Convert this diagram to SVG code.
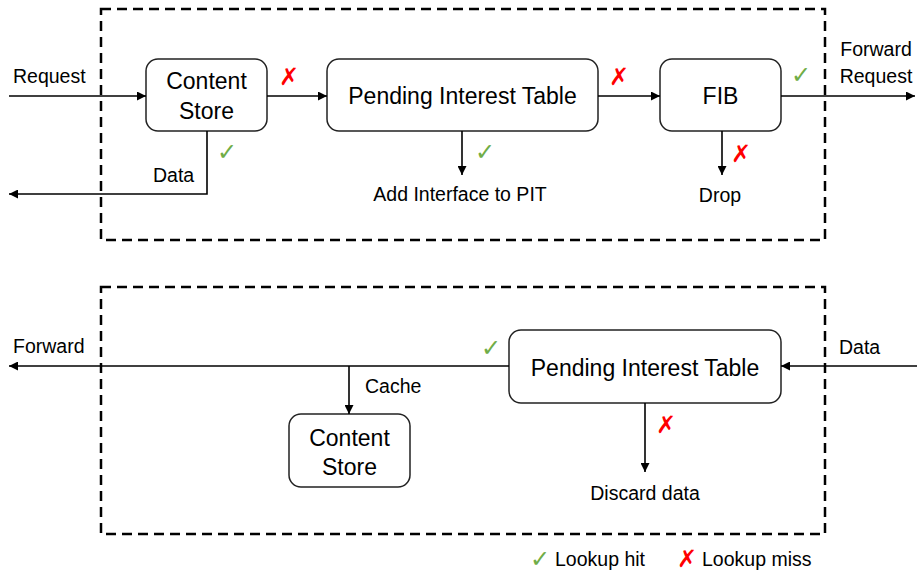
<svg xmlns="http://www.w3.org/2000/svg" width="917" height="574" viewBox="0 0 917 574">
  <style>
    .frame { fill: none; stroke: #000; stroke-width: 2.5; stroke-dasharray: 10 6; }
    .box { fill: #fff; stroke: #222; stroke-width: 1.5; }
    .node { font-family: "Liberation Sans", Arial, sans-serif; font-size: 23px; fill: #000; text-anchor: middle; }
    .lbl { font-family: "Liberation Sans", Arial, sans-serif; font-size: 19.5px; fill: #000; }
    .wire { fill: none; stroke: #000; stroke-width: 1.6; }
    .hit { font-family: "DejaVu Sans", sans-serif; font-size: 24px; fill: #70AD47; text-anchor: middle; }
    .miss { font-family: "DejaVu Sans", sans-serif; font-size: 24px; fill: #FF0000; text-anchor: middle; }
  </style>
  <defs>
    <marker id="arrow" viewBox="0 0 10 10" refX="10" refY="5" markerWidth="10" markerHeight="9" markerUnits="userSpaceOnUse" orient="auto">
      <path d="M0,0 L10,5 L0,10 z" fill="#000"/>
    </marker>
  </defs>

  <rect class="frame" x="101" y="9" width="724" height="231"/>
  <rect class="frame" x="101" y="287" width="724" height="247"/>

  <!-- interest path -->
  <g id="cs-top">
    <rect class="box" x="146" y="59" width="121" height="72" rx="12"/>
    <text class="node" x="206.5" y="89">Content</text>
    <text class="node" x="206.5" y="119">Store</text>
  </g>
  <g id="pit-top">
    <rect class="box" x="327" y="59" width="271" height="72" rx="12"/>
    <text class="node" x="462.5" y="104">Pending Interest Table</text>
  </g>
  <g id="fib">
    <rect class="box" x="660" y="59" width="121" height="72" rx="12"/>
    <text class="node" x="720.5" y="104">FIB</text>
  </g>

  <!-- data path -->
  <g id="pit-bottom">
    <rect class="box" x="509" y="330" width="272" height="73" rx="12"/>
    <text class="node" x="645" y="376">Pending Interest Table</text>
  </g>
  <g id="cs-bottom">
    <rect class="box" x="289" y="414" width="121" height="73" rx="12"/>
    <text class="node" x="349.5" y="446">Content</text>
    <text class="node" x="349.5" y="475">Store</text>
  </g>

  <g id="connectors">
    <line class="wire" x1="9" y1="96" x2="146" y2="96" marker-end="url(#arrow)"/>
    <line class="wire" x1="267" y1="96" x2="327" y2="96" marker-end="url(#arrow)"/>
    <line class="wire" x1="598" y1="96" x2="660" y2="96" marker-end="url(#arrow)"/>
    <line class="wire" x1="781" y1="96" x2="915" y2="96" marker-end="url(#arrow)"/>
    <polyline class="wire" points="207,131 207,194 9,194" marker-end="url(#arrow)"/>
    <line class="wire" x1="462" y1="131" x2="462" y2="175" marker-end="url(#arrow)"/>
    <line class="wire" x1="722" y1="131" x2="722" y2="175" marker-end="url(#arrow)"/>

    <line class="wire" x1="917" y1="366" x2="781" y2="366" marker-end="url(#arrow)"/>
    <line class="wire" x1="509" y1="366" x2="9" y2="366" marker-end="url(#arrow)"/>
    <line class="wire" x1="349" y1="366" x2="349" y2="414" marker-end="url(#arrow)"/>
    <line class="wire" x1="645" y1="403" x2="645" y2="472" marker-end="url(#arrow)"/>
  </g>

  <g id="labels">
    <text class="lbl" x="13" y="83">Request</text>
    <text class="lbl" x="153" y="182">Data</text>
    <text class="lbl" x="460" y="201" text-anchor="middle">Add Interface to PIT</text>
    <text class="lbl" x="720" y="202" text-anchor="middle">Drop</text>
    <text class="lbl" x="876" y="56" text-anchor="middle">Forward</text>
    <text class="lbl" x="876" y="83" text-anchor="middle">Request</text>

    <text class="lbl" x="13" y="353">Forward</text>
    <text class="lbl" x="365" y="393">Cache</text>
    <text class="lbl" x="839" y="354">Data</text>
    <text class="lbl" x="645" y="500" text-anchor="middle">Discard data</text>
  </g>

  <g id="marks">
    <text class="miss" x="289" y="85">✗</text>
    <text class="miss" x="619" y="85">✗</text>
    <text class="miss" x="741" y="162">✗</text>
    <text class="miss" x="666" y="433">✗</text>
    <text class="hit" x="227" y="160">✓</text>
    <text class="hit" x="485" y="160">✓</text>
    <text class="hit" x="801" y="83">✓</text>
    <text class="hit" x="491" y="356">✓</text>
  </g>

  <g id="legend">
    <text class="hit" x="540" y="567">✓</text>
    <text class="lbl" x="555" y="566">Lookup hit</text>
    <text class="miss" x="687" y="567">✗</text>
    <text class="lbl" x="702" y="566">Lookup miss</text>
  </g>
</svg>
